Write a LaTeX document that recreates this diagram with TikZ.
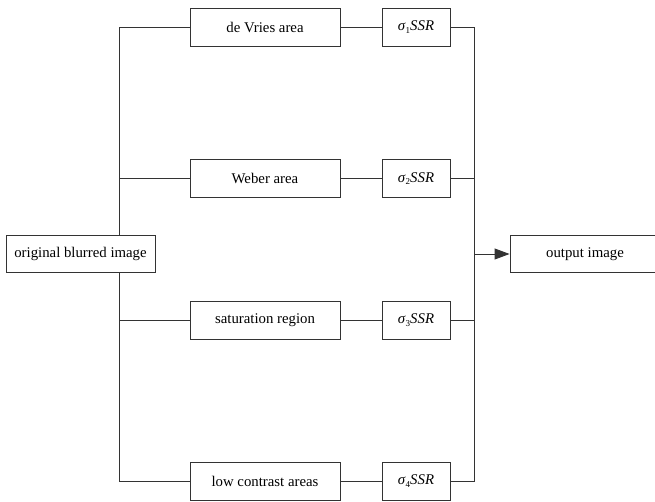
\documentclass[tikz,border=0pt]{standalone}
\usepackage{fontspec}
\setmainfont{Liberation Serif}
\usetikzlibrary{arrows.meta}
\newcommand\sigssr[1]{\textit{σ}\raisebox{-0.4ex}{\fontsize{9}{9}\selectfont #1}\textit{SSR}}
\begin{document}
\begin{tikzpicture}[x=1pt,y=-1pt,
  box/.style={draw=black!80,line width=0.9pt,minimum height=37.5pt,inner sep=0pt,
    font=\fontsize{14.8}{17}\selectfont},
  rowbox/.style={box,minimum width=150pt},
  sbox/.style={box,minimum width=68pt},
  ln/.style={draw=black!80,line width=0.9pt}]
\useasboundingbox (0,0) rectangle (655,502);
\node[box,minimum width=149pt] (orig) at (80.5,254) {original blurred image};
\node[rowbox] (r1) at (265,27.3) {de Vries area};
\node[rowbox] (r2) at (265,178.7) {Weber area};
\node[rowbox] (r3) at (265,320.5) {saturation region};
\node[rowbox] (r4) at (265,481.3) {low contrast areas};
\node[sbox] (s1) at (416,27.3) {\sigssr{1}};
\node[sbox] (s2) at (416,178.7) {\sigssr{2}};
\node[sbox] (s3) at (416,320.5) {\sigssr{3}};
\node[sbox] (s4) at (416,481.3) {\sigssr{4}};
\node[box,minimum width=150pt] (out) at (585,254) {output image};
\coordinate (tk) at (119.5,254);
\coordinate (rk) at (474,254);
\path[ln] (orig.north -| tk) |- (r1.west);
\path[ln] (orig.south -| tk) |- (r4.west);
\path[ln] (tk |- r2.west) -- (r2.west);
\path[ln] (tk |- r3.west) -- (r3.west);
\foreach \i in {1,2,3,4} \path[ln] (r\i.east) -- (s\i.west);
\path[ln] (s1.east) -| (rk);
\path[ln] (s4.east) -| (rk);
\path[ln] (s2.east) -- (s2.east -| rk);
\path[ln] (s3.east) -- (s3.east -| rk);
\path[ln,-{Triangle[length=15pt,width=11pt]}] (rk) -- (out.west);
\end{tikzpicture}
\end{document}
